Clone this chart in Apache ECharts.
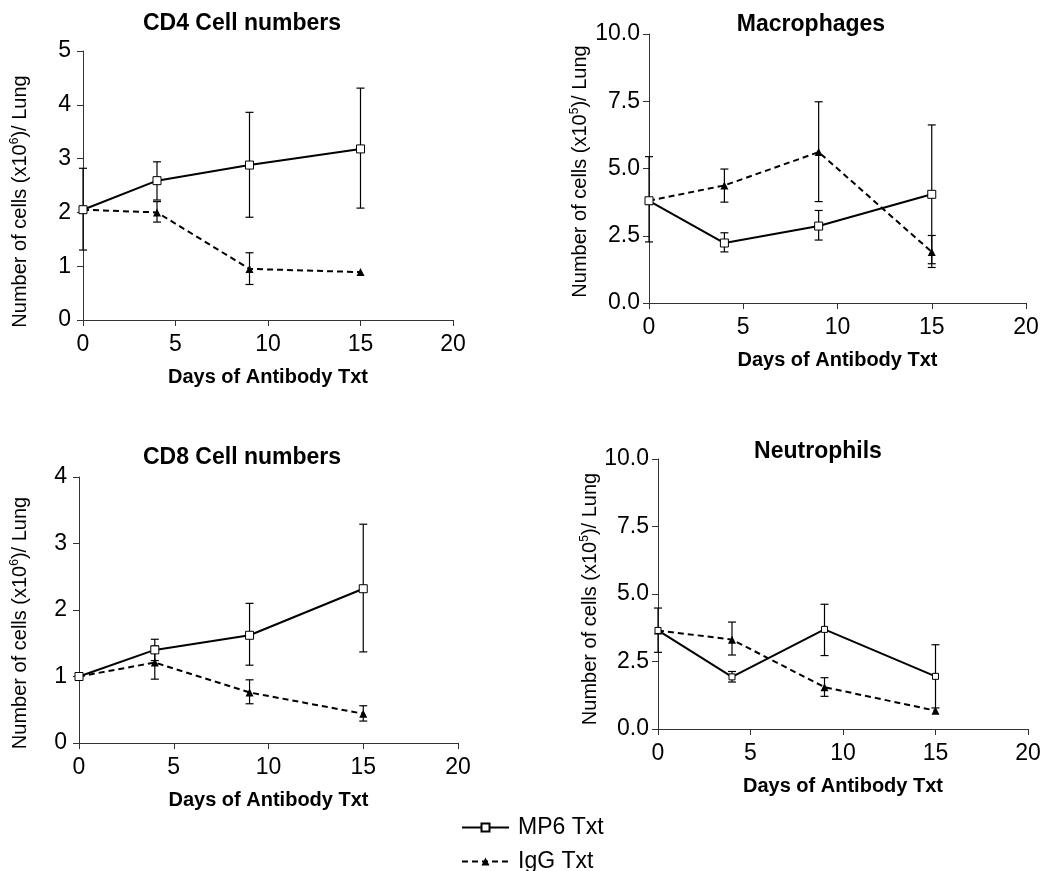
<!DOCTYPE html>
<html>
<head>
<meta charset="utf-8">
<script src="https://cdn.jsdelivr.net/npm/echarts@6/dist/echarts.min.js"></script>
<style>html,body{margin:0;padding:0;background:#fff;}#chart{width:1049px;height:871px;}</style>
</head>
<body>
<div id="chart"></div>
<script>
// ---- data ----
var days = [0, 4, 9, 15];
var xTicks = [0, 5, 10, 15, 20];

var titles = ['CD4 Cell numbers', 'Macrophages', 'CD8 Cell numbers', 'Neutrophils'];
var legendNames = ['MP6 Txt', 'IgG Txt'];

// CD4 (x10^6)
var cd4Mp6 = [2.05, 2.59, 2.88, 3.18];
var cd4Mp6Lo = [1.30, 2.23, 1.91, 2.08];
var cd4Mp6Hi = [2.82, 2.94, 3.86, 4.31];
var cd4Igg = [2.05, 2.00, 0.95, 0.89];
var cd4IggLo = [null, 1.82, 0.66, null];
var cd4IggHi = [null, 2.20, 1.25, null];

// Macrophages (x10^5)
var macMp6 = [3.80, 2.23, 2.86, 4.04];
var macMp6Lo = [2.27, 1.90, 2.34, 1.46];
var macMp6Hi = [5.44, 2.61, 3.44, 6.62];
var macIgg = [3.80, 4.37, 5.61, 1.90];
var macIggLo = [null, 3.75, 3.77, 1.32];
var macIggHi = [null, 4.98, 7.48, 2.51];

// CD8 (x10^6)
var cd8Mp6 = [1.00, 1.40, 1.62, 2.32];
var cd8Mp6Lo = [null, 1.24, 1.17, 1.37];
var cd8Mp6Hi = [null, 1.56, 2.10, 3.29];
var cd8Igg = [1.00, 1.21, 0.76, 0.44];
var cd8IggLo = [null, 0.96, 0.59, 0.33];
var cd8IggHi = [null, 1.46, 0.95, 0.56];

// Neutrophils (x10^5)
var neuMp6 = [3.65, 1.93, 3.69, 1.95];
var neuMp6Lo = [2.84, 1.74, 2.72, 0.78];
var neuMp6Hi = [4.48, 2.13, 4.62, 3.12];
var neuIgg = [3.65, 3.31, 1.55, 0.68];
var neuIggLo = [null, 2.74, 1.21, null];
var neuIggHi = [null, 3.96, 1.90, null];

var yTicks6a = ['0', '1', '2', '3', '4', '5'];
var yTicks6b = ['0', '1', '2', '3', '4'];
var yTicks5 = ['0.0', '2.5', '5.0', '7.5', '10.0'];

// ---- build ----
var FONT = 'Liberation Sans, Arial, sans-serif';
var NARROW = 'Liberation Sans Narrow, Arial Narrow, Liberation Sans, sans-serif';
var AX = '#333';

function pairs(xs, ys) { return xs.map(function (x, i) { return [x, ys[i]]; }); }
function errData(xs, lo, hi) {
  var out = [];
  xs.forEach(function (x, i) { if (lo[i] != null && hi[i] != null) out.push([x, lo[i], hi[i]]); });
  return out;
}
function errRender(params, api) {
  var x = api.value(0);
  var a = api.coord([x, api.value(1)]);
  var b = api.coord([x, api.value(2)]);
  var w = 4;
  var st = { stroke: '#000', lineWidth: 1.2 };
  return {
    type: 'group',
    children: [
      { type: 'line', shape: { x1: a[0], y1: a[1], x2: b[0], y2: b[1] }, style: st },
      { type: 'line', shape: { x1: a[0] - w, y1: a[1], x2: a[0] + w, y2: a[1] }, style: st },
      { type: 'line', shape: { x1: b[0] - w, y1: b[1], x2: b[0] + w, y2: b[1] }, style: st }
    ]
  };
}

var grids = [
  { left: 83, top: 51, width: 370, height: 269 },
  { left: 649, top: 34, width: 377, height: 269 },
  { left: 79, top: 477, width: 379, height: 266 },
  { left: 658, top: 459, width: 370, height: 270 }
];
var yCfg = [
  { max: 5, interval: 1, ticks: yTicks6a, exp: '6', gap: 52, shift: 32, lm: 12 },
  { max: 10, interval: 2.5, ticks: yTicks5, exp: '5', gap: 58, shift: 6, lm: 9 },
  { max: 4, interval: 1, ticks: yTicks6b, exp: '6', gap: 48, shift: 26, lm: 12 },
  { max: 10, interval: 2.5, ticks: yTicks5, exp: '5', gap: 57, shift: 10, lm: 9 }
];
var panelData = [
  [cd4Mp6, cd4Mp6Lo, cd4Mp6Hi, cd4Igg, cd4IggLo, cd4IggHi, 8],
  [macMp6, macMp6Lo, macMp6Hi, macIgg, macIggLo, macIggHi, 8],
  [cd8Mp6, cd8Mp6Lo, cd8Mp6Hi, cd8Igg, cd8IggLo, cd8IggHi, 8],
  [neuMp6, neuMp6Lo, neuMp6Hi, neuIgg, neuIggLo, neuIggHi, 6]
];
var titlePos = [[242, 12], [811, 13], [242, 446], [818, 440]];

var xAxes = [], yAxes = [], series = [], titleArr = [];
grids.forEach(function (g, i) {
  var yc = yCfg[i];
  xAxes.push({
    type: 'value', gridIndex: i, min: xTicks[0], max: xTicks[xTicks.length - 1], interval: 5,
    name: 'Days of Antibody Txt', nameLocation: 'middle', nameGap: 47,
    nameTextStyle: { fontFamily: FONT, fontSize: 20, fontWeight: 'bold', color: '#000' },
    axisLine: { lineStyle: { color: AX, width: 1 } },
    axisTick: { show: true, length: 6, lineStyle: { color: AX } },
    axisLabel: { fontFamily: NARROW, fontSize: 23, color: '#000', margin: 13 },
    splitLine: { show: false }
  });
  yAxes.push({
    type: 'value', gridIndex: i, min: 0, max: yc.max, interval: yc.interval,
    name: '{n|Number of cells (x10}{s|' + yc.exp + '}{n|)/ Lung}',
    nameLocation: 'middle', nameGap: yc.gap,
    nameTextStyle: {
      padding: [0, yc.shift, 0, 0],
      rich: {
        n: { fontFamily: FONT, fontSize: 20, color: '#000', lineHeight: 22 },
        s: { fontFamily: FONT, fontSize: 12, color: '#000', lineHeight: 12, verticalAlign: 'top' }
      }
    },
    axisLine: { show: true, lineStyle: { color: AX, width: 1 } },
    axisTick: { show: true, length: 6, lineStyle: { color: AX } },
    axisLabel: {
      fontFamily: NARROW, fontSize: 23, color: '#000', margin: yc.lm,
      formatter: (function (ticks, step) { return function (v) { return ticks[Math.round(v / step)]; }; })(yc.ticks, yc.interval)
    },
    splitLine: { show: false }
  });
  titleArr.push({
    text: titles[i], left: titlePos[i][0], top: titlePos[i][1], textAlign: 'center', padding: 0,
    textStyle: { fontFamily: FONT, fontSize: 23, fontWeight: 'bold', color: '#000' }
  });
  var d = panelData[i];
  series.push({
    type: 'custom', name: 'errIgg' + i, xAxisIndex: i, yAxisIndex: i, renderItem: errRender,
    data: errData(days, d[4], d[5]), z: 1, silent: true
  });
  series.push({
    type: 'custom', name: 'errMp6' + i, xAxisIndex: i, yAxisIndex: i, renderItem: errRender,
    data: errData(days, d[1], d[2]), z: 1, silent: true
  });
  series.push({
    type: 'line', name: legendNames[1], xAxisIndex: i, yAxisIndex: i, data: pairs(days, d[3]),
    symbol: 'triangle', symbolSize: 8,
    itemStyle: { color: '#000' },
    lineStyle: { color: '#000', width: 2, type: [6, 4] },
    z: 3
  });
  series.push({
    type: 'line', name: legendNames[0], xAxisIndex: i, yAxisIndex: i, data: pairs(days, d[0]),
    symbol: 'rect', symbolSize: d[6], showAllSymbol: true,
    itemStyle: { color: '#fff', borderColor: '#000', borderWidth: 1 },
    lineStyle: { color: '#000', width: 2 },
    z: 4
  });
});

function legendFor(name, top) {
  return {
    data: [name], orient: 'horizontal', left: 456, top: top,
    itemWidth: 47, itemHeight: 10, selectedMode: false,
    textStyle: { fontFamily: FONT, fontSize: 23, color: '#000', padding: [0, 0, 0, 4] }
  };
}

var chart = echarts.init(document.getElementById('chart'), null, { renderer: 'canvas' });
chart.setOption({
  animation: false,
  backgroundColor: '#fff',
  title: titleArr,
  grid: grids,
  xAxis: xAxes,
  yAxis: yAxes,
  legend: [legendFor(legendNames[0], 811), legendFor(legendNames[1], 845)],
  series: series
});
</script>
</body>
</html>
